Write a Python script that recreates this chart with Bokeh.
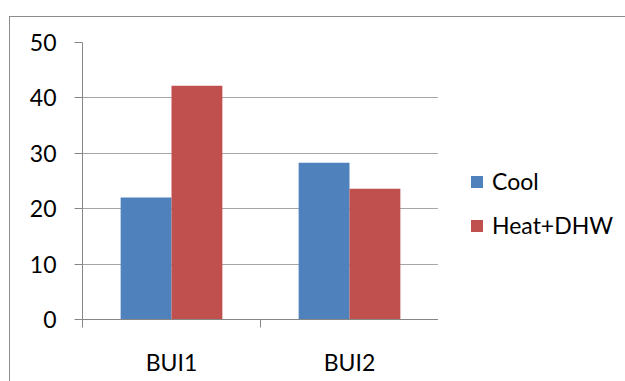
from bokeh.plotting import figure
from bokeh.layouts import row
from bokeh.models import Range1d, FixedTicker, Legend, LegendItem, ColumnDataSource
from bokeh.embed import file_html
from bokeh.resources import INLINE

categories = ["BUI1", "BUI2"]
series_names = ["Cool", "Heat+DHW"]
cool = [22.0, 28.3]
heat_dhw = [42.2, 23.6]
colors = ["#4F81BD", "#C0504D"]
y_ticks = [0, 10, 20, 30, 40, 50]

FONT = "Lato"
FS = "23px"

p = figure(width=428, height=364, output_backend="svg", toolbar_location=None,
           x_range=Range1d(0, len(categories)), y_range=Range1d(0, 50),
           min_border_left=72, min_border_right=0, min_border_top=25, min_border_bottom=62)
p.outline_line_color = None
p.background_fill_color = "white"
p.border_fill_color = "white"

bar_w = 1 / 3.5
centers = [i + 0.5 for i in range(len(categories))]
for k, (name, vals) in enumerate(zip(series_names, [cool, heat_dhw])):
    src = ColumnDataSource(dict(x=[c + (k - 0.5) * bar_w for c in centers], top=vals))
    p.vbar(x="x", top="top", width=bar_w, bottom=0, source=src,
           fill_color=colors[k], line_color=None)

xa = p.xaxis[0]
xa.ticker = FixedTicker(ticks=centers, minor_ticks=list(range(len(categories) + 1)))
xa.major_label_overrides = {c: cat for c, cat in zip(centers, categories)}
xa.major_tick_line_color = None
xa.minor_tick_line_color = "#868686"
xa.minor_tick_out = 8
xa.minor_tick_in = 0
xa.axis_line_color = "#868686"
xa.major_label_standoff = 20
xa.major_label_text_font = FONT
xa.major_label_text_font_size = FS
xa.major_label_text_color = "black"

ya = p.yaxis[0]
ya.ticker = FixedTicker(ticks=y_ticks)
ya.minor_tick_line_color = None
ya.major_tick_out = 8
ya.major_tick_in = 0
ya.major_tick_line_color = "#868686"
ya.axis_line_color = "#868686"
ya.major_label_standoff = 18
ya.major_label_text_font = FONT
ya.major_label_text_font_size = FS
ya.major_label_text_color = "black"

p.xgrid.grid_line_color = None
p.ygrid.grid_line_color = "#a6a6a6"
p.ygrid.ticker = FixedTicker(ticks=y_ticks)

# legend panel (separate figure so the legend sits outside the plot area)
pl = figure(width=187, height=364, output_backend="svg", toolbar_location=None,
            x_range=Range1d(0, 1), y_range=Range1d(0, 1),
            min_border_left=0, min_border_right=0, min_border_top=0, min_border_bottom=0)
pl.axis.visible = False
pl.grid.visible = False
pl.outline_line_color = None
pl.border_fill_color = "white"
# swatch renderers placed outside the visible range; only their legend glyphs show
leg_renderers = [pl.vbar(x=[5], top=[1], width=0.1, fill_color=c, line_color=None) for c in colors]
legend = Legend(items=[LegendItem(label=n, renderers=[r]) for n, r in zip(series_names, leg_renderers)],
                location=(31, 80), border_line_color=None, background_fill_alpha=0,
                glyph_width=15, glyph_height=15, spacing=16, label_standoff=8,
                label_text_font=FONT, label_text_font_size=FS, label_text_color="black",
                padding=0, margin=0)
pl.add_layout(legend, "center")

layout = row(p, pl, spacing=0, margin=(16, 0, 0, 9),
             styles={"border-top": "1px solid #8c8c8c", "border-left": "1px solid #8c8c8c",
                     "box-sizing": "content-box"})

open("out.html", "w").write(file_html(layout, INLINE))
